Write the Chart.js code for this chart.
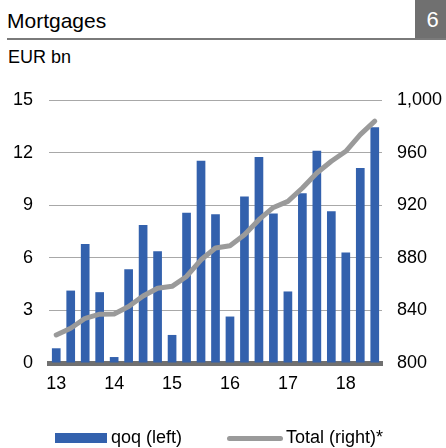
<!DOCTYPE html>
<html>
<head>
<meta charset="utf-8">
<script src="https://cdn.jsdelivr.net/npm/chart.js@4"></script>
<style>
  html, body { margin:0; padding:0; background:#fff; }
  body { width:446px; height:448px; position:relative; overflow:hidden; font-family:"Liberation Sans", Arial, sans-serif; color:#000; }
  .t { position:absolute; white-space:nowrap; line-height:1; }
  #c { position:absolute; left:0; top:0; }
</style>
</head>
<body>
<div class="t" style="left:7px;top:9.5px;font-size:21px;">Mortgages</div>
<div style="position:absolute;left:415px;top:0;width:31px;height:38px;background:#707070;"></div>
<div class="t" style="left:426.5px;top:8.5px;font-size:22px;color:#fff;">6</div>
<div style="position:absolute;left:7px;top:38px;width:439px;height:2px;background:#7a7a7a;"></div>
<div class="t" style="left:8px;top:48px;font-size:18px;">EUR bn</div>
<canvas id="c" width="446" height="448"></canvas>
<div style="position:absolute;left:55px;top:433px;width:52px;height:10px;background:#3361AD;"></div>
<div class="t" style="left:111px;top:427.5px;font-size:18px;">qoq (left)</div>
<div style="position:absolute;left:227px;top:436px;width:56px;height:5px;border-radius:3px;background:#9A9A9A;"></div>
<div class="t" style="left:286px;top:427.5px;font-size:18px;">Total (right)*</div>
<script>
const categories = ['13Q1','13Q2','13Q3','13Q4','14Q1','14Q2','14Q3','14Q4','15Q1','15Q2','15Q3','15Q4','16Q1','16Q2','16Q3','16Q4','17Q1','17Q2','17Q3','17Q4','18Q1','18Q2','18Q3'];
const qoq = [0.84, 4.13, 6.78, 4.04, 0.34, 5.35, 7.87, 6.38, 1.6, 8.57, 11.54, 8.48, 2.65, 9.49, 11.75, 8.53, 4.08, 9.68, 12.1, 8.65, 6.3, 11.12, 13.45];
const total = [821.3, 826.4, 834, 837.1, 837.3, 842.9, 851, 856.9, 858.3, 865.8, 878.5, 887.4, 889.2, 897.5, 909, 918.3, 922.9, 933.1, 944.5, 953.4, 961, 973.7, 983.9];
const xTickLabels = ['13','','','','14','','','','15','','','','16','','','','17','','','','18','',''];
const leftTicks = { min: 0, max: 15, step: 3 };
const rightTicks = { min: 800, max: 1000, step: 40 };

const FONT = { family: '"Liberation Sans", Arial, sans-serif', size: 18 };

new Chart(document.getElementById('c'), {
  data: {
    labels: categories,
    datasets: [
      { type: 'line', label: 'Total (right)*', data: total, yAxisID: 'y1', borderColor: '#9A9A9A', borderWidth: 5, pointRadius: 0, tension: 0, order: 0, borderCapStyle: 'round', borderJoinStyle: 'round' },
      { type: 'bar', label: 'qoq (left)', data: qoq, yAxisID: 'y', backgroundColor: '#3361AD', borderWidth: 0, barPercentage: 0.6, categoryPercentage: 1.0, order: 1 }
    ]
  },
  options: {
    responsive: false,
    animation: false,
    layout: { padding: { top: 100, left: 0, right: 0, bottom: 0 } },
    plugins: { legend: { display: false }, tooltip: { enabled: false } },
    scales: {
      x: {
        type: 'category',
        offset: true,
        grid: { display: false, drawTicks: false },
        border: { display: true, color: '#707070', width: 5 },
        ticks: { autoSkip: false, maxRotation: 0, minRotation: 0, padding: 10, color: '#000', font: FONT,
          callback: (v, i) => xTickLabels[i] },
        afterFit: s => { s.height = 85; }
      },
      y: {
        position: 'left',
        min: leftTicks.min, max: leftTicks.max,
        grid: { color: '#A8A8A8', lineWidth: 1, drawTicks: false },
        border: { display: false },
        ticks: { stepSize: leftTicks.step, padding: 16, color: '#000', font: FONT },
        afterFit: s => { s.width = 49; }
      },
      y1: {
        position: 'right',
        min: rightTicks.min, max: rightTicks.max,
        grid: { drawOnChartArea: false, drawTicks: false },
        border: { display: false },
        ticks: { stepSize: rightTicks.step, padding: 15, color: '#000', font: FONT,
          callback: v => v.toLocaleString('en-US') },
        afterFit: s => { s.width = 64; }
      }
    }
  }
});
</script>
</body>
</html>
